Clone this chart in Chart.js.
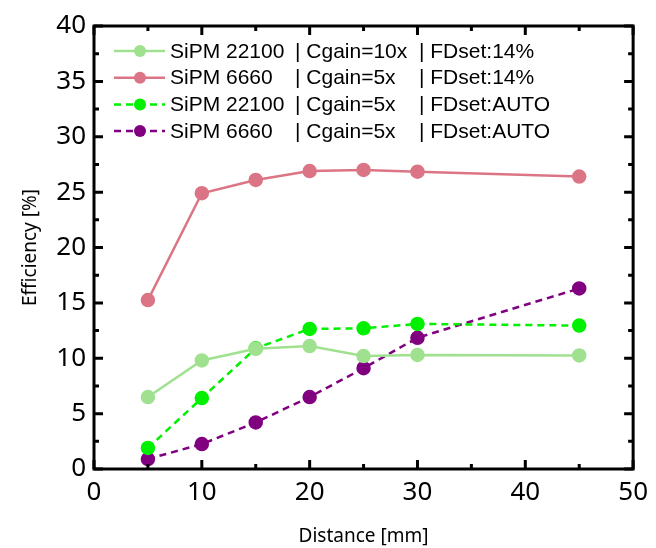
<!DOCTYPE html>
<html>
<head>
<meta charset="utf-8">
<script src="https://cdn.jsdelivr.net/npm/chart.js@4/dist/chart.umd.min.js"></script>
<style>
  html, body { margin: 0; padding: 0; background: #fff; }
</style>
</head>
<body>
<canvas id="effChart" width="656" height="548"></canvas>
<script>
// source distance [mm]
const distance = [5, 10, 15, 20, 25, 30, 45];

// efficiency [%] per configuration
const sipm22100Gain10Fd14 = [6.5, 9.8, 10.85, 11.1, 10.2, 10.3, 10.25];
const sipm6660Gain5Fd14 = [15.25, 24.9, 26.1, 26.9, 27.0, 26.85, 26.4];
const sipm22100Gain5Auto = [1.9, 6.4, 10.9, 12.65, 12.7, 13.1, 12.95];
const sipm6660Gain5Auto = [0.9, 2.25, 4.2, 6.5, 9.1, 11.85, 16.3];

const seriesLabels = [
  'SiPM 22100 | Cgain=10x | FDset:14%',
  'SiPM 6660 | Cgain=5x | FDset:14%',
  'SiPM 22100 | Cgain=5x | FDset:AUTO',
  'SiPM 6660 | Cgain=5x | FDset:AUTO'
];

const xTicks = [0, 10, 20, 30, 40, 50];
const yTicks = [0, 5, 10, 15, 20, 25, 30, 35, 40];

const toPoints = vals => vals.map((v, i) => ({ x: distance[i], y: v }));

function makeSet(label, vals, color, dashed) {
  return {
    label: label,
    data: toPoints(vals),
    borderColor: color,
    backgroundColor: color,
    pointBackgroundColor: color,
    pointBorderColor: color,
    borderWidth: 2.5,
    borderDash: dashed ? [7, 5] : [],
    pointRadius: 6,
    pointHoverRadius: 6,
    tension: 0
  };
}

// black box around the plot with inward major/minor ticks on all sides
const framePlugin = {
  id: 'frame',
  afterDatasetsDraw(chart) {
    const { ctx, chartArea: a, scales: { x, y } } = chart;
    ctx.save();
    ctx.strokeStyle = '#000';
    ctx.lineWidth = 3;
    ctx.lineCap = 'butt';
    ctx.beginPath();
    const major = 9, minor = 5;
    xTicks.forEach((t, i) => {
      const px = x.getPixelForValue(t);
      ctx.moveTo(px, a.bottom); ctx.lineTo(px, a.bottom - major);
      ctx.moveTo(px, a.top); ctx.lineTo(px, a.top + major);
      if (i < xTicks.length - 1) {
        const mx = x.getPixelForValue((t + xTicks[i + 1]) / 2);
        ctx.moveTo(mx, a.bottom); ctx.lineTo(mx, a.bottom - minor);
        ctx.moveTo(mx, a.top); ctx.lineTo(mx, a.top + minor);
      }
    });
    yTicks.forEach((t, i) => {
      const py = y.getPixelForValue(t);
      ctx.moveTo(a.left, py); ctx.lineTo(a.left + major, py);
      ctx.moveTo(a.right, py); ctx.lineTo(a.right - major, py);
      if (i < yTicks.length - 1) {
        const my = y.getPixelForValue((t + yTicks[i + 1]) / 2);
        ctx.moveTo(a.left, my); ctx.lineTo(a.left + minor, my);
        ctx.moveTo(a.right, my); ctx.lineTo(a.right - minor, my);
      }
    });
    ctx.stroke();
    ctx.lineJoin = 'miter';
    ctx.strokeRect(a.left, a.top, a.right - a.left, a.bottom - a.top);
    ctx.restore();
  }
};

// legend inside the plot, three aligned text columns
const legendPlugin = {
  id: 'boxLegend',
  afterDraw(chart) {
    const ctx = chart.ctx;
    const rowY0 = 51, rowStep = 26.7;
    const lineX0 = 114, lineX1 = 165, markX = 140;
    const cols = [170, 295, 419];
    ctx.save();
    chart.data.datasets.forEach((ds, i) => {
      const yy = rowY0 + i * rowStep;
      ctx.strokeStyle = ds.borderColor;
      ctx.lineWidth = ds.borderWidth;
      ctx.setLineDash(ds.borderDash);
      ctx.beginPath();
      ctx.moveTo(lineX0, yy); ctx.lineTo(lineX1, yy);
      ctx.stroke();
      ctx.setLineDash([]);
      ctx.fillStyle = ds.pointBackgroundColor;
      ctx.beginPath();
      ctx.arc(markX, yy, 6, 0, Math.PI * 2);
      ctx.fill();
      ctx.fillStyle = '#000';
      ctx.font = '21px "Liberation Sans", Arial, sans-serif';
      ctx.textBaseline = 'middle';
      const parts = ds.label.split(' | ');
      parts.forEach((p, j) => {
        ctx.fillText((j > 0 ? '| ' : '') + p, cols[j], yy + 1);
      });
    });
    ctx.restore();
  }
};

const tickFont = { family: '"Noto Sans", "Open Sans", sans-serif', size: 26 };
const titleFont = { family: '"Noto Sans", "Open Sans", sans-serif', size: 19 };

new Chart(document.getElementById('effChart').getContext('2d'), {
  type: 'line',
  data: {
    datasets: [
      makeSet(seriesLabels[0], sipm22100Gain10Fd14, '#a0e190', false),
      makeSet(seriesLabels[1], sipm6660Gain5Fd14, '#db7585', false),
      makeSet(seriesLabels[2], sipm22100Gain5Auto, '#00f000', true),
      makeSet(seriesLabels[3], sipm6660Gain5Auto, '#800080', true)
    ]
  },
  options: {
    responsive: false,
    devicePixelRatio: 1,
    animation: false,
    layout: { padding: { top: 26, right: 19, left: 0, bottom: 0 } },
    plugins: {
      legend: { display: false },
      tooltip: { enabled: false }
    },
    scales: {
      x: {
        type: 'linear',
        min: 0,
        max: 50,
        afterFit: s => { s.height = 79; },
        afterBuildTicks: s => { s.ticks = xTicks.map(v => ({ value: v })); },
        grid: { display: false, drawTicks: false },
        border: { display: false },
        ticks: { font: tickFont, color: '#000', padding: 8, maxRotation: 0 },
        title: { display: true, text: 'Distance [mm]', font: titleFont, color: '#000', padding: { top: 0, bottom: 0 } }
      },
      y: {
        type: 'linear',
        min: 0,
        max: 40,
        afterFit: s => { s.width = 94; },
        afterBuildTicks: s => { s.ticks = yTicks.map(v => ({ value: v })); },
        grid: { display: false, drawTicks: false },
        border: { display: false },
        ticks: { font: tickFont, color: '#000', padding: 8 },
        title: { display: true, text: 'Efficiency [%]', font: titleFont, color: '#000', padding: { top: 19, bottom: 0 } }
      }
    }
  },
  plugins: [framePlugin, legendPlugin]
});
</script>
</body>
</html>
